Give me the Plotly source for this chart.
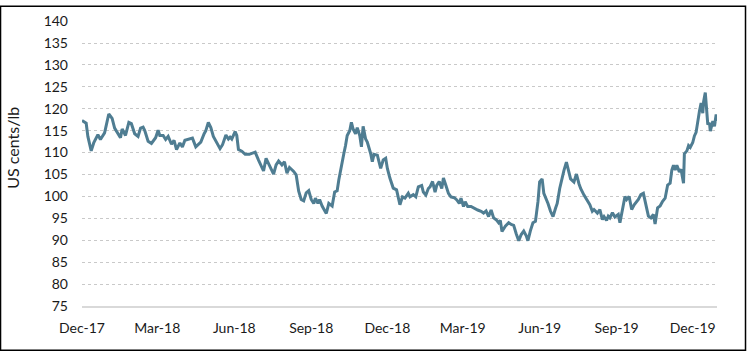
import pandas as pd
import plotly.graph_objects as go

# Data (US cents/lb), x as days since 1 Dec 2017
start_date = "2017-12-01"
day_offsets = [
    0, 5, 7, 11, 14, 19, 22, 27, 32, 36, 39, 43, 46, 48, 52, 56, 59, 63, 67, 70, 73, 75, 79, 83, 88, 91, 93, 97, 100, 103, 107, 110, 113, 117, 120, 123,
    128, 132, 136, 142, 146, 148, 151, 154, 157, 162, 165, 168, 172, 175, 177, 179, 183, 185, 187, 191, 195, 200, 203, 207, 211, 214, 217, 220, 223, 226, 229, 232, 235, 239, 242, 245, 248,
    253, 256, 259, 262, 265, 268, 271, 274, 277, 279, 282, 284, 287, 290, 292, 295, 299, 302, 305, 307, 310, 313, 315, 317, 320, 322, 324, 327, 329, 332, 334, 336, 339, 341, 345, 347, 349, 353, 357, 360, 363, 365, 368, 372, 376,
    378, 380, 383, 386, 390, 392, 396, 399, 402, 406, 408, 411, 414, 416, 419, 422, 424, 427, 430, 432, 435, 438, 441, 445, 448, 451, 453, 456, 458, 461, 465, 469, 473, 477, 480, 483, 486, 489, 492, 495, 498, 500, 502,
    506, 510, 513, 516, 519, 522, 525, 528, 531, 533, 536, 539, 542, 545, 547, 550, 552, 554, 557, 560, 563, 566, 568, 571, 574, 576, 579, 582, 584, 588, 591, 594, 596, 600, 604, 607, 610, 612, 616, 619, 622, 624,
    627, 629, 631, 634, 637, 641, 643, 646, 649, 651, 654, 657, 660, 665, 668, 671, 674, 677, 680, 683, 685, 688, 691, 694, 697, 700, 703, 705, 707, 709, 711, 714, 716, 719, 720, 723, 725, 727, 730, 732, 734, 736, 738, 740, 742, 743, 745, 746, 748, 750, 751, 754, 756, 758, 759,
]
prices = [
    117.3, 116.7, 113.7, 110.4, 112.2, 114.1, 113.0, 114.5, 118.8, 117.8, 115.6, 114.5, 113.4, 115.4, 113.9, 116.9, 116.6, 114.3, 113.7, 115.6, 115.8, 115.0, 112.6, 112.1, 113.4, 115.1, 113.9, 113.9, 113.0, 113.7, 111.9, 112.8, 110.7, 112.2, 111.3, 112.8,
    113.1, 113.3, 111.3, 112.4, 114.3, 115.0, 116.9, 115.7, 113.7, 112.0, 110.9, 111.8, 114.0, 113.1, 113.5, 113.1, 114.8, 113.9, 110.7, 110.3, 109.6, 109.6, 109.8, 110.1, 108.3, 107.0, 105.8, 108.7, 107.5, 106.4, 105.1, 107.2, 108.1, 107.2, 107.9, 105.3, 106.6,
    105.7, 104.9, 101.2, 99.3, 99.0, 100.8, 101.3, 99.3, 98.4, 99.6, 98.4, 99.3, 97.8, 96.9, 96.1, 98.4, 97.8, 101.0, 101.3, 103.8, 107.2, 109.8, 111.6, 113.9, 115.0, 116.9, 115.4, 114.3, 115.7, 113.9, 111.3, 116.0, 113.1, 112.4, 109.8, 107.9, 109.6, 109.4, 106.4, 108.3, 108.7, 106.4, 104.2, 101.9, 101.5,
    99.9, 98.1, 99.9, 99.6, 100.7, 99.9, 100.4, 99.9, 102.2, 102.5, 101.0, 100.3, 101.8, 102.2, 103.4, 101.0, 102.5, 103.4, 101.8, 104.2, 102.5, 100.7, 99.9, 99.7, 99.2, 98.4, 99.6, 97.7, 98.8, 97.7, 97.7, 97.2, 96.9, 96.6, 96.2, 96.7, 95.4, 96.9, 95.1, 94.7, 94.0, 94.5, 92.0,
    93.2, 94.0, 93.6, 93.4, 91.5, 89.9, 91.3, 92.1, 91.0, 89.9, 92.2, 94.0, 94.3, 98.8, 103.3, 104.0, 100.7, 99.9, 98.4, 96.6, 95.4, 97.3, 98.4, 101.8, 104.8, 105.9, 107.8, 105.5, 104.0, 103.3, 105.1, 102.9, 101.8, 100.3, 99.2, 98.1, 96.6, 97.0, 96.2, 97.0, 94.7, 95.4,
    94.5, 95.5, 95.1, 96.3, 95.3, 95.9, 94.0, 97.0, 100.0, 99.3, 100.0, 97.0, 98.1, 99.3, 100.4, 100.7, 98.1, 95.5, 95.1, 95.9, 93.7, 97.4, 97.8, 98.9, 99.6, 102.6, 103.0, 106.0, 107.1, 106.0, 107.1, 105.6, 106.2, 103.0, 109.7, 110.4, 111.6, 111.2, 112.3, 113.8, 114.6, 117.5, 119.4, 121.3, 119.0, 121.6, 123.7, 121.3, 116.4, 116.8, 114.9, 117.2, 116.0, 118.7, 117.2,
]
tick_dates = ["2017-12-01", "2018-03-01", "2018-06-01", "2018-09-01", "2018-12-01",
              "2019-03-01", "2019-06-01", "2019-09-01", "2019-12-01"]
x_end = "2019-12-30"
y_title = "US cents/lb"

dates = pd.to_datetime(start_date) + pd.to_timedelta(day_offsets, unit="D")

FONT = dict(family="Lato, Carlito, Calibri, sans-serif", size=14, color="#1a1a1a")

fig = go.Figure(go.Scatter(
    x=dates, y=prices, mode="lines",
    line=dict(color="#4f7d92", width=3),
    hoverinfo="x+y",
))

fig.update_layout(
    width=747, height=353,
    margin=dict(l=82, r=30, t=16, b=47),
    paper_bgcolor="white", plot_bgcolor="white",
    showlegend=False,
    font=FONT,
)
fig.update_xaxes(
    type="date", range=[start_date, x_end],
    tickvals=tick_dates, tickformat="%b-%y",
    showgrid=False, zeroline=False,
    showline=True, linecolor="#d9d9d9", linewidth=1.5,
    ticks="", tickfont=FONT, ticklabelstandoff=8,
)
fig.update_yaxes(
    range=[75, 140.02], tick0=75, dtick=5,
    showgrid=True, gridcolor="#c9c9c9", griddash="dot", gridwidth=1,
    zeroline=False, showline=False,
    ticks="", tickfont=FONT, ticklabelstandoff=13,
)
fig.add_annotation(
    text=y_title, xref="paper", yref="paper", x=-0.1087, y=0.555,
    textangle=-90, showarrow=False, xanchor="center", yanchor="middle",
    font=dict(FONT, size=16),
)
fig.add_shape(
    type="rect", xref="paper", yref="paper",
    x0=-0.1283, x1=1.0449, y0=-0.155, y1=1.0517,
    line=dict(color="black", width=1.5), fillcolor="rgba(0,0,0,0)",
)

fig.write_html("out.html")
